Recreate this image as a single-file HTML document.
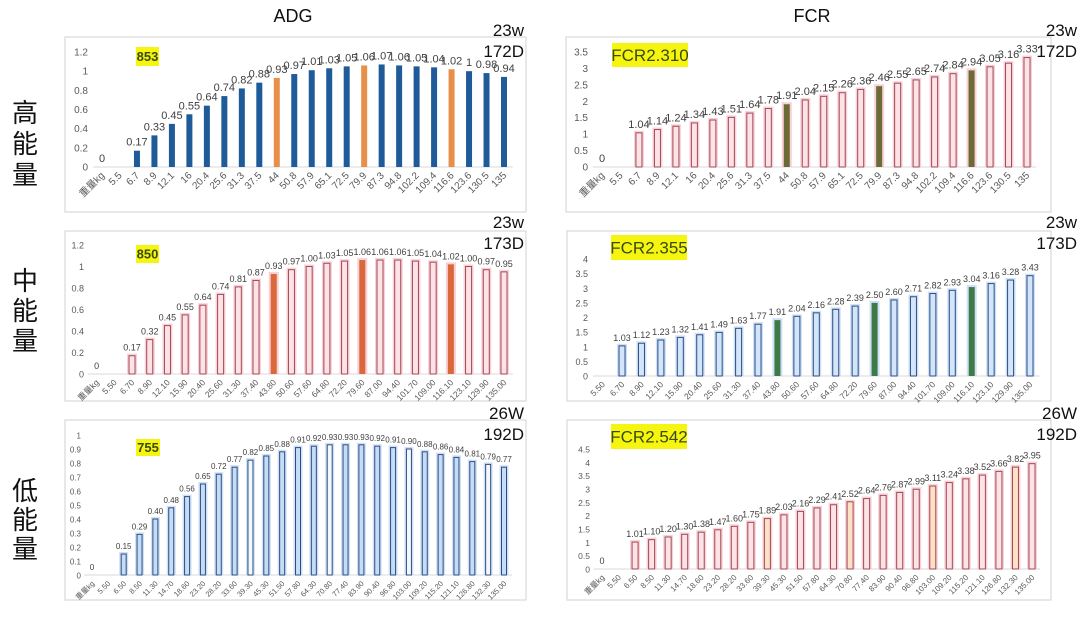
<!DOCTYPE html>
<html><head><meta charset="utf-8">
<style>
html,body{margin:0;padding:0;background:#fff;}
svg{display:block;font-family:"Liberation Sans","Noto Sans CJK SC",sans-serif;}
</style></head>
<body>
<svg id="root" width="1080" height="617" viewBox="0 0 1080 617" xmlns="http://www.w3.org/2000/svg">
<text x="293" y="22" font-size="18" text-anchor="middle" fill="#111">ADG</text>
<text x="812" y="22" font-size="18" text-anchor="middle" fill="#111">FCR</text>
<g font-size="26" fill="#111" text-anchor="middle" font-family="'Noto Sans CJK SC',sans-serif">
<text x="25" y="122"><tspan x="25">高</tspan><tspan x="25" dy="31">能</tspan><tspan x="25" dy="31">量</tspan></text>
<text x="25" y="290"><tspan x="25">中</tspan><tspan x="25" dy="30">能</tspan><tspan x="25" dy="30">量</tspan></text>
<text x="25" y="500"><tspan x="25">低</tspan><tspan x="25" dy="29">能</tspan><tspan x="25" dy="29">量</tspan></text>
</g>
</svg>
<script>
const adgHighCats=["重量kg","5.5","6.7","8.9","12.1","16","20.4","25.6","31.3","37.5","44","50.8","57.9","65.1","72.5","79.9","87.3","94.8","102.2","109.4","116.6","123.6","130.5","135"];
const adgHighVals=[0,null,0.17,0.33,0.45,0.55,0.64,0.74,0.82,0.88,0.93,0.97,1.01,1.03,1.05,1.06,1.07,1.06,1.05,1.04,1.02,1,0.98,0.94];
const adgHighTicks=[0,0.2,0.4,0.6,0.8,1,1.2];
const adgHighMarked=[10,15,20];
const fcrHighVals=[0,null,1.04,1.14,1.24,1.34,1.43,1.51,1.64,1.78,1.91,2.04,2.15,2.26,2.36,2.46,2.55,2.65,2.74,2.84,2.94,3.05,3.16,3.33];
const fcrHighTicks=[0,0.5,1,1.5,2,2.5,3,3.5];
const fcrHighMarked=[10,15,20];
const adgMidCats=["重量kg","5.50","6.70","8.90","12.10","15.90","20.40","25.60","31.30","37.40","43.80","50.60","57.60","64.80","72.20","79.60","87.00","94.40","101.70","109.00","116.10","123.10","129.90","135.00"];
const adgMidVals=[0,null,0.17,0.32,0.45,0.55,0.64,0.74,0.81,0.87,0.93,0.97,1.00,1.03,1.05,1.06,1.06,1.06,1.05,1.04,1.02,1.00,0.97,0.95];
const adgMidTicks=[0,0.2,0.4,0.6,0.8,1,1.2];
const adgMidMarked=[10,15,20];
const fcrMidCats=["5.50","6.70","8.90","12.10","15.90","20.40","25.60","31.30","37.40","43.80","50.60","57.60","64.80","72.20","79.60","87.00","94.40","101.70","109.00","116.10","123.10","129.90","135.00"];
const fcrMidVals=[null,1.03,1.12,1.23,1.32,1.41,1.49,1.63,1.77,1.91,2.04,2.16,2.28,2.39,2.50,2.60,2.71,2.82,2.93,3.04,3.16,3.28,3.43];
const fcrMidTicks=[0,0.5,1,1.5,2,2.5,3,3.5,4];
const fcrMidMarked=[9,14,19];
const lowCats=["重量kg","5.50","6.50","8.50","11.30","14.70","18.60","23.20","28.20","33.60","39.30","45.30","51.50","57.80","64.30","70.80","77.40","83.90","90.40","96.80","103.00","109.20","115.20","121.10","126.80","132.30","135.00"];
const adgLowVals=[0,null,0.15,0.29,0.40,0.48,0.56,0.65,0.72,0.77,0.82,0.85,0.88,0.91,0.92,0.93,0.93,0.93,0.92,0.91,0.90,0.88,0.86,0.84,0.81,0.79,0.77];
const adgLowTicks=[0,0.1,0.2,0.3,0.4,0.5,0.6,0.7,0.8,0.9,1];
const fcrLowVals=[0,null,1.01,1.10,1.20,1.30,1.38,1.47,1.60,1.75,1.89,2.03,2.16,2.29,2.41,2.52,2.64,2.76,2.87,2.99,3.11,3.24,3.38,3.52,3.66,3.82,3.95];
const fcrLowTicks=[0,0.5,1,1.5,2,2.5,3,3.5,4,4.5];
const lowMarked=[10,15,20,25];

const NS="http://www.w3.org/2000/svg";
const root=document.getElementById('root');
function mk(tag,attrs,parent){const e=document.createElementNS(NS,tag);for(const k in attrs)e.setAttribute(k,attrs[k]);(parent||root).appendChild(e);return e;}

function panel(o){
  const g=mk('g',{});
  
  
  const frame=mk('rect',{x:o.fx,y:o.fy,width:o.fw,height:o.fh,fill:'#fff',stroke:'#d9d9d9','stroke-width':1.2},g);
  
  
  const n=o.cats.length;
  const step=(o.xLast-o.x0)/(n-1);
  const xS=i=>o.x0+i*step;
  const yMax=o.ticks[o.ticks.length-1];
  const yS=v=>o.y0-(v/yMax)*(o.y0-o.yTop);
  o.ticks.forEach(t=>{
    const tl=mk('text',{x:o.tickX,y:yS(t)+3.5,'font-size':o.tfs,'text-anchor':'end',fill:'#595959'},g);
    tl.textContent=String(t);
    
    
  });
  const ax=mk('line',{x1:xS(0)-step/2,x2:xS(n-1)+step/2,y1:o.y0,y2:o.y0,stroke:'#d9d9d9','stroke-width':1},g);
  
  
  o.cats.forEach((c,i)=>{
    const x=xS(i);
    const lb=mk('text',{x:x+3,y:o.y0+9,'font-size':o.xfs,'text-anchor':'end',fill:'#595959',transform:`rotate(-45 ${x+3} ${o.y0+9})`},g);
    lb.textContent=c;
    
    
    const v=o.vals[i];
    if(v===null||v===undefined)return;
    const y=yS(v);
    if(v>0){
      const marked=o.marked.indexOf(i)>=0;
      if(o.glow){
        const gl=mk('rect',{x:x-o.bw/2-2,y:y-2,width:o.bw+4,height:o.y0-y+2,fill:o.glow,opacity:0.75},g);
        
        
      }
      const fill=marked?o.markFill:o.fill;
      const b=mk('rect',{x:x-o.bw/2,y:y,width:o.bw,height:o.y0-y,fill:fill,stroke:(marked&&o.markSolid)?'none':(o.stroke||'none'),'stroke-width':1},g);
      
      
    }
    const vl=mk('text',{x:x,y:y-5,'font-size':o.vfs,'text-anchor':'middle',fill:'#404040'},g);
    vl.textContent=o.fmt(v);
    
    
  });
  const hb=mk('rect',{x:o.hx,y:o.hy,width:o.hw,height:o.hh,fill:'#f5f50f'},g);
  
  
  const ht=mk('text',{x:o.hx+o.hw/2,y:o.hy+o.hh/2+o.hfs*0.36,'font-size':o.hfs,'font-weight':o.hbold?'bold':'normal','text-anchor':'middle',fill:'#3a4a10'},g);
  ht.textContent=o.htext;
  
  
  [[o.w1,o.ly-21],[o.w2,o.ly]].forEach(([t,yy],k)=>{
    const tt=mk('text',{x:o.lx,y:yy,'font-size':17,'text-anchor':'end',fill:'#111'},g);
    tt.textContent=t;
    
    
  });
}
const raw=v=>String(v);
const two=v=>v===0?'0':v.toFixed(2);

panel({name:'adg-high-chart',fx:65,fy:37,fw:461,fh:175,cats:adgHighCats,vals:adgHighVals,ticks:adgHighTicks,marked:adgHighMarked,
 x0:102,xLast:504,y0:167,yTop:52,tickX:88,tfs:10,xfs:10,vfs:11,bw:6,fill:'#1f5b99',markFill:'#e8904a',markSolid:true,fmt:raw,
 hx:136,hy:47,hw:23,hh:19,htext:'853',hfs:13,hbold:true,w1:'23w',w2:'172D',lx:524,ly:57});
panel({name:'fcr-high-chart',fx:566,fy:37,fw:485,fh:175,cats:adgHighCats,vals:fcrHighVals,ticks:fcrHighTicks,marked:fcrHighMarked,
 x0:602,xLast:1027,y0:167,yTop:52,tickX:588,tfs:10,xfs:10,vfs:11,bw:6,fill:'#fde3e6',stroke:'#a04a58',glow:'#f7c0c8',markFill:'#6b6b35',markSolid:true,fmt:raw,
 hx:612,hy:43,hw:76,hh:24,htext:'FCR2.310',hfs:17,hbold:false,w1:'23w',w2:'172D',lx:1077,ly:57});
panel({name:'adg-mid-chart',fx:65,fy:231,fw:461,fh:170,cats:adgMidCats,vals:adgMidVals,ticks:adgMidTicks,marked:adgMidMarked,
 x0:96.6,xLast:504,y0:374,yTop:245,tickX:84,tfs:9,xfs:8.5,vfs:9,bw:6,fill:'#fde3e6',stroke:'#a04a58',glow:'#f7c0c8',markFill:'#d9693a',markSolid:true,fmt:two,
 hx:136,hy:245,hw:23,hh:18,htext:'850',hfs:13,hbold:true,w1:'23w',w2:'173D',lx:524,ly:249});
panel({name:'fcr-mid-chart',fx:567,fy:231,fw:484,fh:170,cats:fcrMidCats,vals:fcrMidVals,ticks:fcrMidTicks,marked:fcrMidMarked,
 x0:602.6,xLast:1030,y0:376,yTop:259,tickX:588,tfs:9,xfs:8.5,vfs:9,bw:6,fill:'#d3e5fa',stroke:'#2e4e80',glow:'#bcd6f4',markFill:'#3f7a46',markSolid:true,fmt:two,
 hx:611,hy:235,hw:76,hh:25,htext:'FCR2.355',hfs:17,hbold:false,w1:'23w',w2:'173D',lx:1077,ly:249});
panel({name:'adg-low-chart',fx:65,fy:420,fw:461,fh:180,cats:lowCats,vals:adgLowVals,ticks:adgLowTicks,marked:lowMarked,
 x0:92,xLast:504,y0:575,yTop:435,tickX:81,tfs:8,xfs:7.5,vfs:8,bw:5,fill:'#c6dcf6',stroke:'#2e4e80',glow:'#bcd6f4',markFill:'#f4f8fd',markSolid:false,fmt:two,
 hx:136,hy:439,hw:24,hh:17,htext:'755',hfs:13,hbold:true,w1:'26W',w2:'192D',lx:524,ly:440});
panel({name:'fcr-low-chart',fx:567,fy:420,fw:484,fh:180,cats:lowCats,vals:fcrLowVals,ticks:fcrLowTicks,marked:lowMarked,
 x0:602,xLast:1032,y0:569,yTop:449,tickX:590,tfs:8.5,xfs:8,vfs:9,bw:6,fill:'#fde3e6',stroke:'#a04a58',glow:'#f7c0c8',markFill:'#fde1c4',markSolid:false,fmt:two,
 hx:611,hy:424,hw:76,hh:25,htext:'FCR2.542',hfs:17,hbold:false,w1:'26W',w2:'192D',lx:1077,ly:440});
</script>
</body></html>
